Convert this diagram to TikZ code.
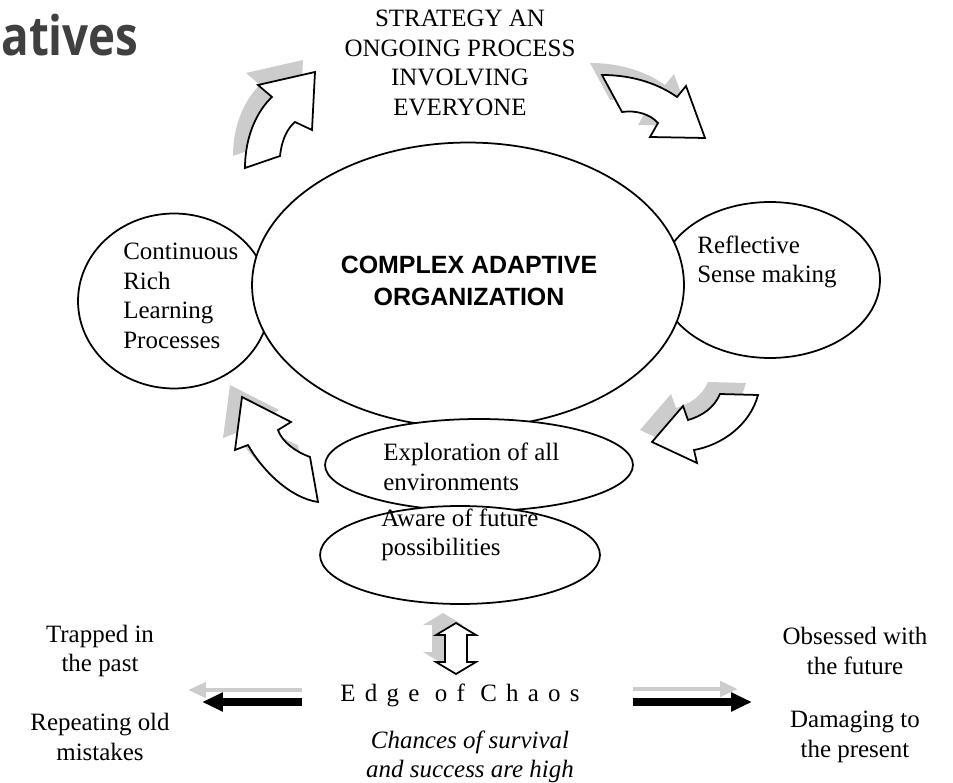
\documentclass[tikz,border=0pt]{standalone}
\usepackage{fontspec}
\setmainfont{Liberation Serif}
\setsansfont{Liberation Sans}
\newfontfamily\titlefont{Open Sans}
\newfontfamily\spacedfont[LetterSpace=37]{Liberation Serif}
\usetikzlibrary{shapes.geometric, arrows.meta, positioning}
\definecolor{shadegray}{RGB}{204,204,204}
\definecolor{titlegray}{RGB}{64,64,64}

\tikzset{
    blob/.style={ellipse, draw, fill=white, line width=1pt, inner sep=0pt},
    serif/.style={font=\rmfamily\fontsize{14.2}{16.8}\selectfont, inner sep=0pt},
    shade/.style={fill=shadegray, draw=none, shift={(-12,-12)}},
    curl/.style={draw=black, fill=white, line width=1pt, line join=miter},
    darkarrow/.style={line width=4pt, -{Triangle[length=0.42cm, width=0.36cm]}},
    lightarrow/.style={line width=2.8pt, shadegray, -{Triangle[length=0.36cm, width=0.3cm]}}
}

% block arrows round the centre
\newcommand{\curlTL}[1]{\path[#1] (245,168) -- (280,156) .. controls (282,138) and (288,128) .. (295,122)
    -- (312,130) -- (315,72) -- (258,85) -- (272,97) .. controls (258,110) and (245,135) .. (245,168) -- cycle;}
\newcommand{\curlTR}[1]{\path[#1] (602,75) -- (622,112) .. controls (636,110) and (650,114) .. (658,123)
    -- (650,137) -- (705,138) -- (686,86) -- (677,97) .. controls (660,85) and (635,75) .. (602,75) -- cycle;}
\newcommand{\curlBR}[1]{\path[#1] (758,395) -- (720,394) .. controls (714,408) and (702,416) .. (688,420)
    -- (683,406) -- (652,442) -- (697,463) -- (694,450) .. controls (722,445) and (750,425) .. (758,395) -- cycle;}
\newcommand{\curlBL}[1]{\path[#1] (242,397) -- (291,422) -- (278,430) .. controls (282,442) and (296,452) .. (310,457)
    -- (318,502) .. controls (290,498) and (262,470) .. (248,445) -- (235,450) -- cycle;}
\newcommand{\updown}[1]{\path[#1] (456,623) -- (476,635) -- (467,635) -- (467,662) -- (476,662) -- (456,674)
    -- (436,662) -- (445,662) -- (445,635) -- (436,635) -- cycle;}

\begin{document}
\begin{tikzpicture}[x=0.02cm, y=-0.02cm]
    \useasboundingbox (0,0) rectangle (953,783);

    % cut title
    \node[anchor=base east, inner sep=0pt, text=titlegray, font=\titlefont\bfseries\fontsize{31}{36}\selectfont] (title) at (139,56) {\scalebox{0.84}[1]{atives}};

    % strategy
    \node[serif, align=center] (strategy) at (460,63) {STRATEGY AN\\ONGOING PROCESS\\INVOLVING\\EVERYONE};

    % side ellipses
    \node[blob, minimum width=3.84cm, minimum height=3.5cm] (learn) at (174,301) {};
    \node[blob, minimum width=4.4cm, minimum height=3.12cm] (reflect) at (770,280) {};
    \node[serif, align=left, anchor=west] (learntext) at (123,296) {Continuous\\Rich\\Learning\\Processes};
    \node[serif, align=left, anchor=west] (reflecttext) at (697,262) {Reflective\\Sense making};

    % centre
    \node[blob, minimum width=8.64cm, minimum height=5.7cm] (core) at (468,285) {};
    \node[align=center, inner sep=0pt, font=\sffamily\bfseries\fontsize{14.2}{18.2}\selectfont] (coretext) at (469,281) {COMPLEX ADAPTIVE\\ORGANIZATION};

    % lower ellipses
    \node[blob, minimum width=6.16cm, minimum height=1.84cm] (explore) at (479,465) {};
    \node[serif, align=left, anchor=west] (exploretext) at (383,467) {Exploration of all\\environments};
    \node[blob, minimum width=5.6cm, minimum height=1.96cm] (aware) at (460,555) {};
    \node[serif, align=left, anchor=west] (awaretext) at (381,535) {Aware of future\\possibilities};

    % curved arrows
    \curlTL{shade} \curlTL{curl}
    \curlTR{shade} \curlTR{curl}
    \curlBR{shade} \curlBR{curl}
    \curlBL{shade} \curlBL{curl}
    \updown{shade, shift={(-1,2)}} \updown{curl}

    % edge of chaos
    \node[serif] (chaos) at (460,695) {\spacedfont Edge of Chaos};
    \node[serif, align=center] (past) at (100,651) {Trapped in\\the past};
    \node[serif, align=center] (mistakes) at (100,737) {Repeating old\\mistakes};
    \node[serif, align=center] (future) at (855,651) {Obsessed with\\the future};
    \node[serif, align=center] (present) at (855,737) {Damaging to\\the present};
    \node[serif, align=center, font=\itshape\fontsize{14.2}{16.8}\selectfont] (chances) at (470,757) {Chances of survival\\and success are high};

    \coordinate (lgray) at (302,690);
    \coordinate (lgrayend) at (188,690);
    \coordinate (lblack) at (302,702);
    \coordinate (lblackend) at (202,702);
    \coordinate (rgray) at (633,689);
    \coordinate (rgrayend) at (738,689);
    \coordinate (rblack) at (633,702);
    \coordinate (rblackend) at (752,702);
    \draw[lightarrow] (lgray) -- (lgrayend);
    \draw[darkarrow] (lblack) -- (lblackend);
    \draw[lightarrow] (rgray) -- (rgrayend);
    \draw[darkarrow] (rblack) -- (rblackend);
\end{tikzpicture}
\end{document}
